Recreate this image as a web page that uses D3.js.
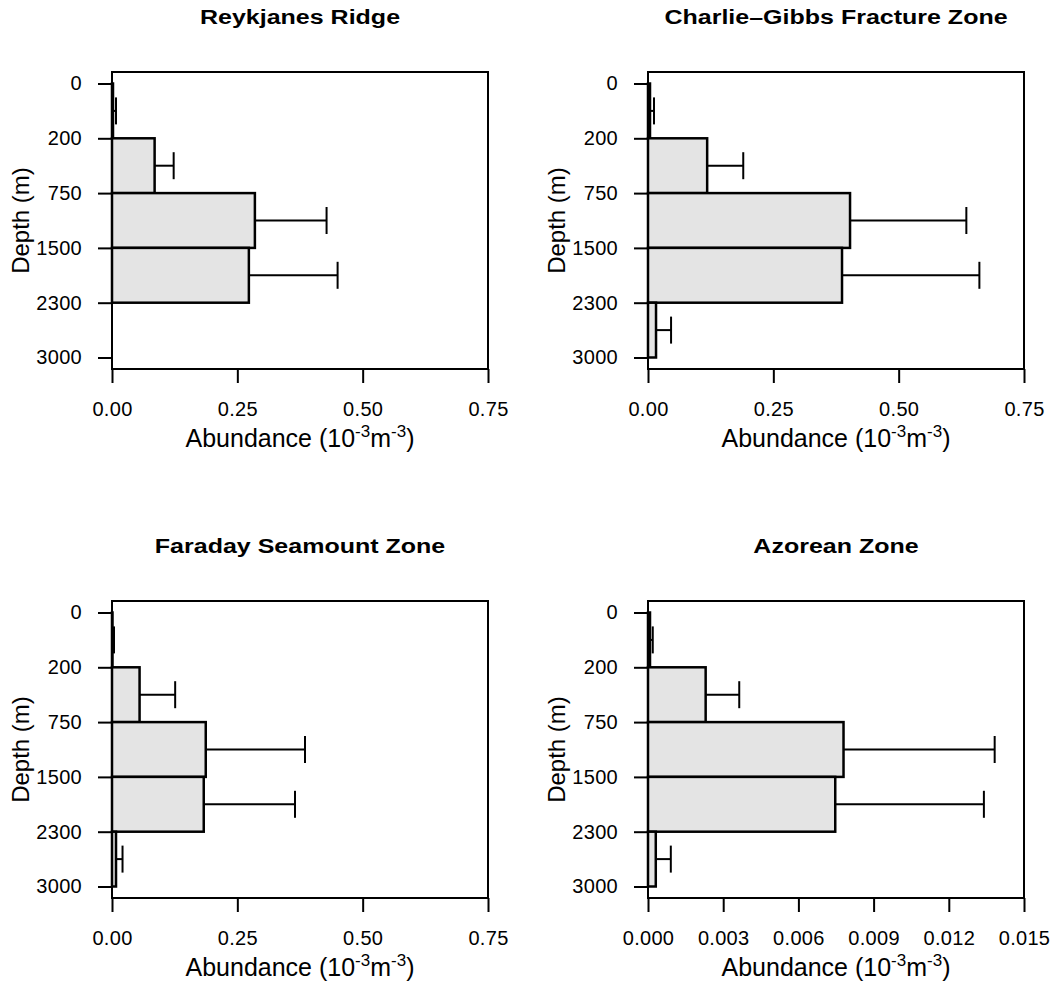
<!DOCTYPE html>
<html>
  <head>
    <script src="https://cdn.jsdelivr.net/npm/d3@7"></script>
    <style>
      body {
        margin: 0;
        background-color: white;
      }
      svg text {
        font-family: "Liberation Sans", Arial, sans-serif;
        fill: black;
      }
    </style>
  </head>
  <body>
    <svg id="chart" width="1054" height="983"></svg>
    <script>
      // depth layer boundaries (m), shared by all four panels
      const depthTicks = ["0", "200", "750", "1500", "2300", "3000"];

      const titles = ["Reykjanes Ridge", "Charlie\u2013Gibbs Fracture Zone", "Faraday Seamount Zone", "Azorean Zone"];

      // mean abundance per layer (0-200, 200-750, 750-1500, 1500-2300, 2300-3000) and its error
      const reykjanesMean = [0.002, 0.085, 0.285, 0.273, 0];
      const reykjanesErr = [0.006, 0.038, 0.143, 0.177, 0];
      const charlieMean = [0.004, 0.118, 0.403, 0.387, 0.016];
      const charlieErr = [0.008, 0.072, 0.232, 0.274, 0.030];
      const faradayMean = [0.001, 0.055, 0.187, 0.183, 0.008];
      const faradayErr = [0.003, 0.071, 0.198, 0.182, 0.013];
      const azoreanMean = [0.00008, 0.0023, 0.0078, 0.00747, 0.00031];
      const azoreanErr = [0.00011, 0.00134, 0.00603, 0.00593, 0.0006];

      const xTicksMain = [0, 0.25, 0.5, 0.75];
      const xTicksAzorean = [0, 0.003, 0.006, 0.009, 0.012, 0.015];

      const panels = [
        {title: titles[0], mean: reykjanesMean, err: reykjanesErr, ticks: xTicksMain, fmt: ".2f", left: 112, top: 72},
        {title: titles[1], mean: charlieMean, err: charlieErr, ticks: xTicksMain, fmt: ".2f", left: 648, top: 72},
        {title: titles[2], mean: faradayMean, err: faradayErr, ticks: xTicksMain, fmt: ".2f", left: 112, top: 601},
        {title: titles[3], mean: azoreanMean, err: azoreanErr, ticks: xTicksAzorean, fmt: ".3f", left: 648, top: 601}
      ];

      const w = 376;
      const h = 297;
      const capHalf = 13.5;

      const svg = d3.select('#chart');

      panels.forEach(p => {
        const g = svg.append('g')
                     .attr('transform', `translate(${p.left},${p.top})`);

        const x = d3.scaleLinear()
                    .domain([0, p.ticks[p.ticks.length - 1]])
                    .range([0, w]);

        const y = d3.scalePoint()
                    .domain(depthTicks)
                    .range([11.5, h - 11.5]);

        const layers = p.mean.map((m, i) => ({
          mean: m,
          err: p.err[i],
          y0: y(depthTicks[i]),
          y1: y(depthTicks[i + 1])
        })).filter(d => d.mean > 0);

        // bars
        g.selectAll('rect.bar')
         .data(layers)
         .enter()
         .append('rect')
         .attr('class', 'bar')
         .attr('x', x(0))
         .attr('y', d => d.y0)
         .attr('width', d => x(d.mean) - x(0))
         .attr('height', d => d.y1 - d.y0)
         .style('fill', '#e4e4e4')
         .style('stroke', 'black')
         .style('stroke-width', 2.5);

        // error bars
        g.selectAll('line.err')
         .data(layers)
         .enter()
         .append('line')
         .attr('class', 'err')
         .attr('x1', d => x(d.mean))
         .attr('x2', d => x(d.mean + d.err))
         .attr('y1', d => (d.y0 + d.y1) / 2)
         .attr('y2', d => (d.y0 + d.y1) / 2)
         .style('stroke', 'black')
         .style('stroke-width', 2);

        g.selectAll('line.cap')
         .data(layers)
         .enter()
         .append('line')
         .attr('class', 'cap')
         .attr('x1', d => x(d.mean + d.err))
         .attr('x2', d => x(d.mean + d.err))
         .attr('y1', d => (d.y0 + d.y1) / 2 - capHalf)
         .attr('y2', d => (d.y0 + d.y1) / 2 + capHalf)
         .style('stroke', 'black')
         .style('stroke-width', 2);

        // frame
        g.append('rect')
         .attr('x', 0)
         .attr('y', 0)
         .attr('width', w)
         .attr('height', h)
         .style('fill', 'none')
         .style('stroke', 'black')
         .style('stroke-width', 2);

        const yAxis = g.append('g')
                       .call(d3.axisLeft(y).tickSize(14).tickPadding(16));

        const xAxis = g.append('g')
                       .attr('transform', `translate(0,${h})`)
                       .call(d3.axisBottom(x).tickValues(p.ticks).tickFormat(d3.format(p.fmt)).tickSize(14).tickPadding(19));

        [xAxis, yAxis].forEach(a => {
          a.attr('font-size', null).attr('font-family', null);
          a.select('.domain').remove();
          a.selectAll('.tick line').style('stroke', 'black').style('stroke-width', 2);
          a.selectAll('.tick text')
           .style('font-size', '20px')
           .style('letter-spacing', '0.3px')
           .style('fill', 'black');
        });

        // panel title
        g.append('text')
         .attr('transform', `translate(${w / 2},-48.5) scale(1.22,1)`)
         .attr('text-anchor', 'middle')
         .style('font-size', '20.5px')
         .style('font-weight', 'bold')
         .text(p.title);

        // y axis title
        g.append('text')
         .attr('transform', `translate(-83,${h / 2}) rotate(-90)`)
         .attr('text-anchor', 'middle')
         .style('font-size', '24px')
         .text('Depth (m)');

        // x axis title with superscripts
        const xt = g.append('text')
                    .attr('x', w / 2)
                    .attr('y', h + 78)
                    .attr('text-anchor', 'middle')
                    .style('font-size', '25px');
        xt.append('tspan').text('Abundance (10');
        xt.append('tspan').attr('dy', -10).style('font-size', '17px').text('-3');
        xt.append('tspan').attr('dy', 10).text('m');
        xt.append('tspan').attr('dy', -10).style('font-size', '17px').text('-3');
        xt.append('tspan').attr('dy', 10).text(')');
      });
    </script>
  </body>
</html>
